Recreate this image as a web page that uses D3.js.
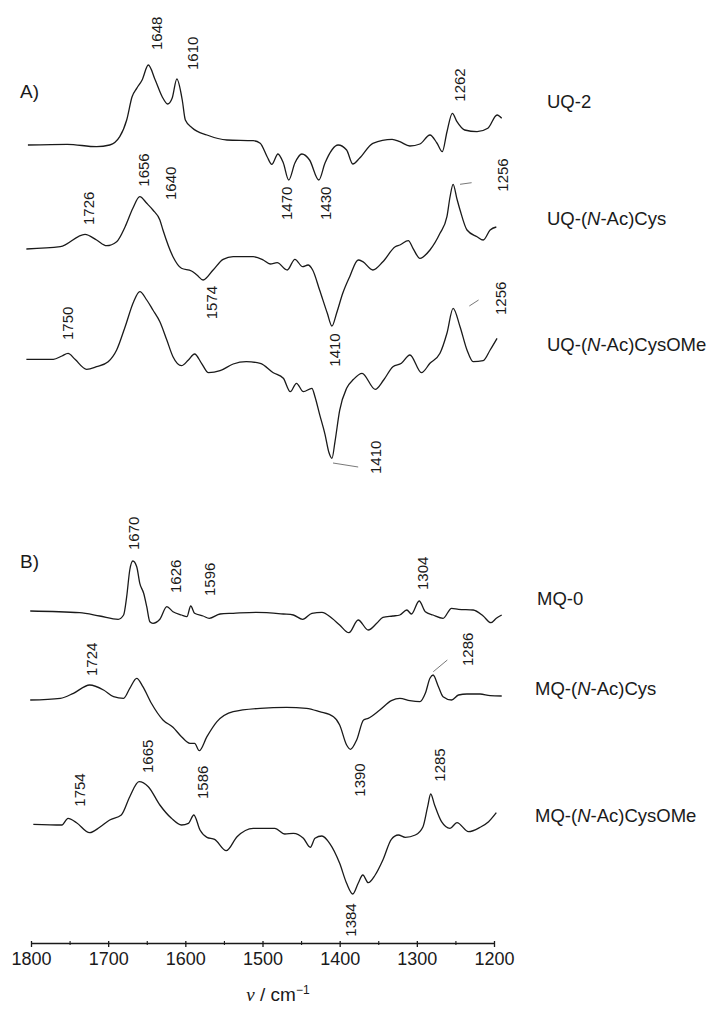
<!DOCTYPE html>
<html>
<head>
<meta charset="utf-8">
<script src="https://cdn.jsdelivr.net/npm/d3@7"></script>
<style>
  body { margin: 0; background: #fff; }
  text { font-family: "Liberation Sans", Arial, sans-serif; fill: #1a1a1a; }
</style>
</head>
<body>
<svg id="chart" width="713" height="1012"></svg>
<script>
// difference spectra, [wavenumber cm-1, dA (a.u.)]
const uq2 = [[1804,0],[1753,0.7],[1715,-1.7],[1698,0],[1685,8.3],[1676,25],[1669,48.3],[1663,56.7],[1656,65],[1648,80],[1639,65],[1630,48.3],[1623,41],[1617,47],[1611,66],[1604,45],[1600,25],[1591,17],[1572,10],[1546,5],[1512,4.3],[1503,1.7],[1494,-11.7],[1488,-19.3],[1480,-9],[1473,-18],[1466,-35],[1458,-18],[1449,-9],[1439,-15],[1427,-35],[1419,-18],[1402,0],[1391,-5],[1383,-19],[1374,-13],[1357,1.7],[1332,5.7],[1322,3.3],[1309,-1],[1296,1],[1283,10],[1274,2],[1267,-6.7],[1261,13],[1254,31.7],[1248,23.3],[1238,15],[1222,13.3],[1208,16.7],[1196,30],[1190,26.7]];

const uqCys = [[1806,0],[1762,2.3],[1730,14.7],[1715,9],[1702,3.3],[1689,7.3],[1678,22.3],[1668,40.7],[1659,52.3],[1650,45.7],[1642,39],[1633,29],[1629,19],[1616,-7.7],[1605,-19.3],[1592,-22],[1585,-26],[1577,-31],[1564,-21],[1551,-10.3],[1538,-7.7],[1512,-7.7],[1499,-11],[1490,-15],[1481,-13.7],[1468,-21],[1458,-10.3],[1448,-17.7],[1441,-16],[1435,-21],[1426,-41],[1416,-64.3],[1410,-77],[1404,-64.3],[1396,-44.3],[1387,-27.7],[1376,-11],[1370,-12.7],[1357,-21],[1344,-12.7],[1328,2.3],[1322,4],[1311,8.3],[1305,0.7],[1296,-9.3],[1283,-1],[1270,15.7],[1261,32.3],[1257,52],[1253,64.7],[1248,50],[1244,39],[1235,19],[1222,12.3],[1214,9],[1205,19],[1197,22]];

const uqCysOMe = [[1806,0],[1771,0],[1760,3.3],[1752,6],[1743,0],[1728,-10],[1715,-7.4],[1700,-2.4],[1689,9.3],[1678,32.6],[1667,57.6],[1659,67.6],[1650,59.3],[1642,49.3],[1633,37.6],[1624,19.3],[1616,2.6],[1605,-6.4],[1596,-0.7],[1588,5.3],[1579,-4],[1570,-13.4],[1555,-11.4],[1538,-4.7],[1521,-2.4],[1503,-4],[1486,-13.4],[1473,-19],[1464,-32.4],[1456,-24],[1447,-32.4],[1436,-29],[1432,-37.4],[1426,-55],[1419,-75],[1414,-93],[1410,-99],[1406,-82],[1400,-51],[1391,-29],[1382,-20],[1371,-14],[1354,-30],[1343,-20.7],[1331,-7.4],[1320,-4],[1309,4.3],[1294,-13.4],[1283,-4],[1270,6],[1261,26],[1253,51],[1244,32.6],[1235,9.3],[1227,-2.4],[1214,-1.4],[1205,9.3],[1196,21]];

const mq0 = [[1801,0],[1737,-1.7],[1711,-5],[1687,-8.3],[1680,-4],[1676,14.3],[1672,41],[1668,50],[1663,44.3],[1659,27.7],[1654,17.7],[1650,4.3],[1646,-10.7],[1642,-12.3],[1633,-8.3],[1624,4.3],[1616,-0.7],[1605,-4],[1598,-5.7],[1593,5],[1588,-2.3],[1577,-5],[1569,-7.3],[1555,-3],[1538,-2.3],[1508,-1.3],[1473,-3],[1460,-4],[1448,-8.3],[1436,-2.3],[1423,-1.3],[1410,-7.3],[1400,-14],[1388,-21.7],[1376,-9],[1363,-19],[1352,-12.3],[1344,-6.3],[1331,-5],[1322,-4],[1313,1],[1307,-3],[1297,10],[1289,-0.7],[1279,-4],[1266,-7.3],[1255,2.7],[1246,1.7],[1227,1],[1214,-5],[1204,-11.7],[1197,-7.3],[1190,-4]];

const mqCys = [[1801,0],[1762,1.7],[1745,6.7],[1724,15],[1706,10],[1693,3.3],[1680,1.7],[1672,11.7],[1663,21.7],[1655,13.3],[1644,-3.3],[1629,-20],[1616,-27.3],[1605,-36.7],[1594,-43.3],[1588,-43.3],[1582,-50.7],[1572,-36.7],[1559,-21.7],[1538,-11.7],[1503,-8.3],[1469,-7.3],[1443,-8.3],[1426,-11.7],[1408,-16.7],[1400,-25],[1391,-45],[1386,-49.3],[1378,-40],[1369,-20],[1363,-18.3],[1348,-10],[1333,-0.7],[1322,1.7],[1309,-0.7],[1296,-1.7],[1289,6.7],[1283,21.7],[1279,25],[1272,13.3],[1266,3.3],[1255,0],[1246,5],[1235,6],[1218,6],[1205,4.3],[1190,4]];

const mqCysOMe = [[1797,0],[1760,-0.7],[1752,6],[1741,1.6],[1724,-8.4],[1711,-3],[1698,4.3],[1683,9.3],[1672,27.6],[1660,42.6],[1648,37.6],[1633,19.3],[1618,6],[1605,-0.7],[1596,1],[1589,9.3],[1581,-5.7],[1572,-13],[1562,-15],[1547,-26.4],[1533,-12.4],[1512,-4],[1484,-4],[1471,-9.7],[1460,-9],[1447,-14],[1438,-23],[1432,-14],[1423,-11.7],[1413,-19],[1400,-39],[1391,-59],[1383,-69.7],[1376,-59],[1370,-50.7],[1363,-58.4],[1354,-50.7],[1344,-35.7],[1333,-15],[1324,-10.7],[1315,-13],[1302,-10.7],[1292,-2.4],[1286,17.6],[1282,30.3],[1277,19.3],[1268,2.6],[1257,-4],[1248,1.6],[1233,-7.4],[1218,-3],[1207,2.6],[1197,11.6]];

const spectra = [uq2, uqCys, uqCysOMe, mq0, mqCys, mqCysOMe];
const names = ["UQ-2", "UQ-(N-Ac)Cys", "UQ-(N-Ac)CysOMe", "MQ-0", "MQ-(N-Ac)Cys", "MQ-(N-Ac)CysOMe"];
// vertical stacking offset of each trace (same units as dA)
const offsets = [855, 751, 640.7, 389, 300, 175.7];

const majorTicks = [1800, 1700, 1600, 1500, 1400, 1300, 1200];
const minorTicks = [1750, 1650, 1550, 1450, 1350, 1250];

// peak labels: series, text, anchor (wavenumber, dA) at the foot of the rotated label
const peakLabels = [
  [0, "1648", 1637, 95], [0, "1610", 1591, 75], [0, "1262", 1244, 43.3],
  [0, "1470", 1468, -75], [0, "1430", 1418, -75],
  [1, "1656", 1654, 62.3], [1, "1640", 1619, 49], [1, "1726", 1725, 24],
  [1, "1256", 1189, 57.3], [1, "1574", 1566, -70.3], [1, "1410", 1407, -117.7],
  [2, "1750", 1753, 19.3], [2, "1256", 1191, 44.3], [2, "1410", 1353, -114.7],
  [3, "1670", 1666.5, 61], [3, "1626", 1613, 18], [3, "1596", 1568, 15], [3, "1304", 1292, 21],
  [4, "1724", 1721, 24], [4, "1286", 1234, 34], [4, "1390", 1374, -96.7],
  [5, "1754", 1736.5, 17.6], [5, "1665", 1649, 51.3], [5, "1586", 1577, 25.3],
  [5, "1285", 1270, 42.6], [5, "1384", 1385, -112.4]
];
// short leader lines from a band to its label
const leaders = [
  [1, [1244, 64.7], [1229, 66.3]],
  [2, [1232, 53.3], [1220, 59.3]],
  [2, [1408.6, -103.7], [1376, -107.7]],
  [4, [1278.7, 28.3], [1260.5, 40]]
];

const svg = d3.select("#chart");
svg.append("rect").attr("width", 713).attr("height", 1012).attr("fill", "#fff");

const x = d3.scaleLinear().domain([1800, 1200]).range([31, 494]);
const y = d3.scaleLinear().domain([0, 1000]).range([1000, 0]);

const line = d3.line().curve(d3.curveMonotoneX);

spectra.forEach((s, i) => {
  svg.append("path")
    .attr("d", line(s.map(d => [x(d[0]), y(offsets[i] + d[1])])))
    .attr("fill", "none")
    .attr("stroke", "#1a1a1a")
    .attr("stroke-width", 1.3)
    .attr("stroke-linejoin", "round");
});

leaders.forEach(([s, a, b]) => {
  svg.append("line")
    .attr("x1", x(a[0])).attr("y1", y(offsets[s] + a[1]))
    .attr("x2", x(b[0])).attr("y2", y(offsets[s] + b[1]))
    .attr("stroke", "#555").attr("stroke-width", 0.8);
});

peakLabels.forEach(([s, t, nu, v]) => {
  svg.append("text")
    .attr("transform", `translate(${x(nu)},${y(offsets[s] + v)}) rotate(-90)`)
    .attr("dy", "0.35em")
    .attr("font-size", 15)
    .text(t);
});

// series names
const nameX = [547, 547, 547, 537, 535, 535];
const nameY = [108, 225, 351, 605, 695, 822];
names.forEach((n, i) => {
  const t = svg.append("text").attr("x", nameX[i]).attr("y", nameY[i]).attr("font-size", 18.5);
  const k = n.indexOf("(N-");
  if (k < 0) { t.text(n); return; }
  t.append("tspan").text(n.slice(0, k + 1));
  t.append("tspan").attr("font-style", "italic").text("N");
  t.append("tspan").text(n.slice(k + 2));
});

svg.append("text").attr("x", 20).attr("y", 98).attr("font-size", 19).text("A)");
svg.append("text").attr("x", 20).attr("y", 568).attr("font-size", 19).text("B)");

// x axis
const axisY = 943;
const gx = svg.append("g").attr("transform", `translate(0,${axisY})`)
  .call(d3.axisBottom(x).tickValues(majorTicks).tickSize(4).tickSizeOuter(0)
    .tickPadding(5).tickFormat(d3.format("d")));
gx.attr("font-family", null).attr("font-size", 18);
gx.select(".domain").attr("stroke", "#1a1a1a").attr("stroke-width", 1.5);
gx.selectAll(".tick line").attr("y1", -2).attr("stroke", "#1a1a1a").attr("stroke-width", 1.3);
gx.selectAll(".tick text").attr("fill", "#1a1a1a");

const gm = svg.append("g").attr("transform", `translate(0,${axisY})`)
  .call(d3.axisBottom(x).tickValues(minorTicks).tickSize(2).tickFormat(""));
gm.select(".domain").remove();
gm.selectAll(".tick line").attr("y1", -2).attr("stroke", "#1a1a1a").attr("stroke-width", 1.1);

const title = svg.append("text").attr("x", 278).attr("y", 1001)
  .attr("text-anchor", "middle").attr("font-size", 19);
title.append("tspan").attr("font-family", "Liberation Serif, serif").attr("font-style", "italic").text("ν");
title.append("tspan").text(" / cm");
title.append("tspan").attr("font-size", 12).attr("dy", -7).text("−1");
</script>
</body>
</html>
